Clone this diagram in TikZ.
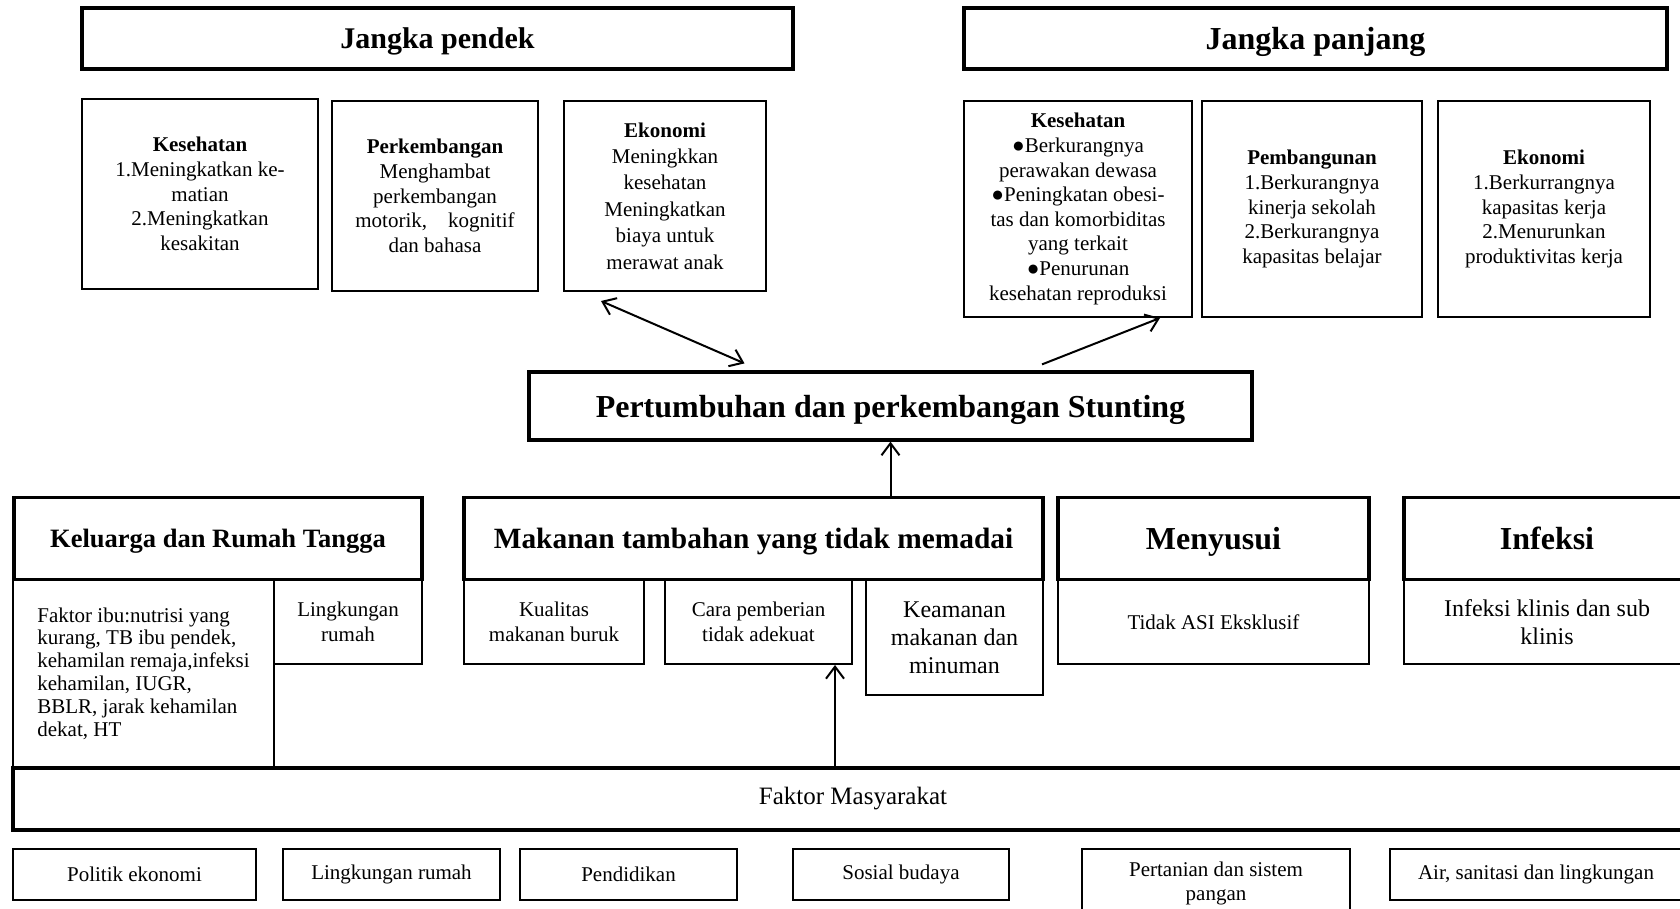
\documentclass[tikz,border=0pt]{standalone}
\usepackage{fontspec}
\setmainfont{Liberation Serif}
\usetikzlibrary{arrows.meta,calc}
\newcommand{\txtsm}{\fontsize{10.5}{12.3}\selectfont}
\newcommand{\txtmd}{\fontsize{12}{14}\selectfont}

\begin{document}
\begin{tikzpicture}[x=0.5pt, y=-0.5pt, >={Straight Barb[length=6pt,width=9pt]},
  box/.style={draw, line width=1pt, align=center, inner sep=2pt, font=\txtsm},
  hd/.style={draw, line width=1.6pt, align=center, inner sep=2pt, text depth=0pt,
             font=\bfseries\fontsize{#1}{#1}\selectfont},
  hd/.default=16,
  sz/.style 2 args={minimum width=#1, minimum height=#2},
  flow/.style={line width=1pt}]
\useasboundingbox (0,0) rectangle (1680,909);
% -- jangka pendek
\node[hd=15, sz={355.5pt}{30.5pt}] (pendek) at (437.5,38.5) {Jangka pendek};
\node[box, sz={118pt}{95pt}] (sk1) at (200,194)
  {\textbf{Kesehatan}\\1.Meningkatkan ke-\\matian\\2.Meningkatkan\\kesakitan};
\node[box, sz={103pt}{95pt}] (sk2) at (435,196)
  {\textbf{Perkembangan}\\Menghambat\\perkembangan\\motorik,\quad kognitif\\dan bahasa};
\node[box, font=\fontsize{10.5}{13.2}\selectfont, sz={101pt}{95pt}] (sk3) at (665,196)
  {\textbf{Ekonomi}\\Meningkkan\\kesehatan\\Meningkatkan\\biaya untuk\\merawat anak};
% -- jangka panjang
\node[hd=16, sz={351.5pt}{30.5pt}] (panjang) at (1315.5,38.5) {Jangka panjang};
\node[box, sz={114pt}{108pt}] (lk1) at (1078,209)
  {\textbf{Kesehatan}\\●Berkurangnya\\perawakan dewasa\\●Peningkatan obesi-\\tas dan komorbiditas\\yang terkait\\●Penurunan\\kesehatan reproduksi};
\node[box, sz={110pt}{108pt}] (lk2) at (1312,209)
  {\textbf{Pembangunan}\\1.Berkurangnya\\kinerja sekolah\\2.Berkurangnya\\kapasitas belajar};
\node[box, sz={106pt}{108pt}] (lk3) at (1544,209)
  {\textbf{Ekonomi}\\1.Berkurrangnya\\kapasitas kerja\\2.Menurunkan\\produktivitas kerja};
% -- stunting
\node[hd=16, sz={361.5pt}{34pt}] (stunt) at (890.5,406) {Pertumbuhan dan perkembangan Stunting};
\draw[flow, <->] ([xshift=19pt, yshift=-4.5pt]sk3.south west) -- ([xshift=-73pt, yshift=3.5pt]stunt.north);
\draw[flow, ->] ([xshift=75.75pt, yshift=3pt]stunt.north) -- ([xshift=98.5pt]lk1.south west);
% -- faktor langsung
\node[hd=13.25, sz={204pt}{41pt}] (kel) at (218,538.5) {Keluarga dan Rumah Tangga};
\node[hd=14.7, sz={289.5pt}{41pt}] (mak) at (753.5,538.5) {Makanan tambahan yang tidak memadai};
\node[hd=16, sz={155.5pt}{41pt}] (susu) at (1213.5,538.5) {Menyusui};
\node[hd=16, sz={143pt}{41pt}] (inf) at (1547,538.5) {Infeksi};
\draw[flow, ->] (stunt.south |- mak.north) -- (stunt.south);
\node[box, align=left, font=\fontsize{10.5}{11.4}\selectfont, sz={130.5pt}{93.5pt}] (ibu) at (143.5,673.5)
  {Faktor ibu:nutrisi yang\\kurang, TB ibu pendek,\\kehamilan remaja,infeksi\\kehamilan, IUGR,\\BBLR, jarak kehamilan\\dekat, HT};
\node[box, sz={74pt}{42pt}] (rumah) at (348,622) {Lingkungan\\rumah};
\node[box, sz={90pt}{42pt}] (kual) at (554,622) {Kualitas\\makanan buruk};
\node[box, sz={93.5pt}{42pt}] (cara) at (758.5,622) {Cara pemberian\\tidak adekuat};
\node[box, font=\txtmd, sz={88.5pt}{57.5pt}] (aman) at (954.5,637.5) {Keamanan\\makanan dan\\minuman};
\node[box, sz={155.5pt}{42pt}] (asi) at (1213.5,622) {Tidak ASI Eksklusif};
\node[box, font=\txtmd, sz={143pt}{42pt}] (klinis) at (1547,622) {Infeksi klinis dan sub\\klinis};
% -- faktor masyarakat
\node[box, line width=1.6pt, font=\fontsize{12.5}{14}\selectfont, sz={840pt}{31pt}] (masy) at (853,799) {Faktor Masyarakat};
\coordinate (up) at ([xshift=38.25pt]cara.south);
\draw[flow, ->] (up |- masy.north) -- (up);
\foreach \n/\x/\w/\t in {politik/134.5/121.5/Politik ekonomi, rumah2/391.5/108.5/Lingkungan rumah,
    didik/628.5/108.5/Pendidikan, sosial/901/108/Sosial budaya, air/1536/146/{Air, sanitasi dan lingkungan}}
  \node[box, sz={\w pt}{25.5pt}] (\n) at (\x,874.5) {\t};
\node[box, sz={134pt}{34.5pt}] (tani) at (1216,883.5) {Pertanian dan sistem\\pangan};
\end{tikzpicture}
\end{document}
